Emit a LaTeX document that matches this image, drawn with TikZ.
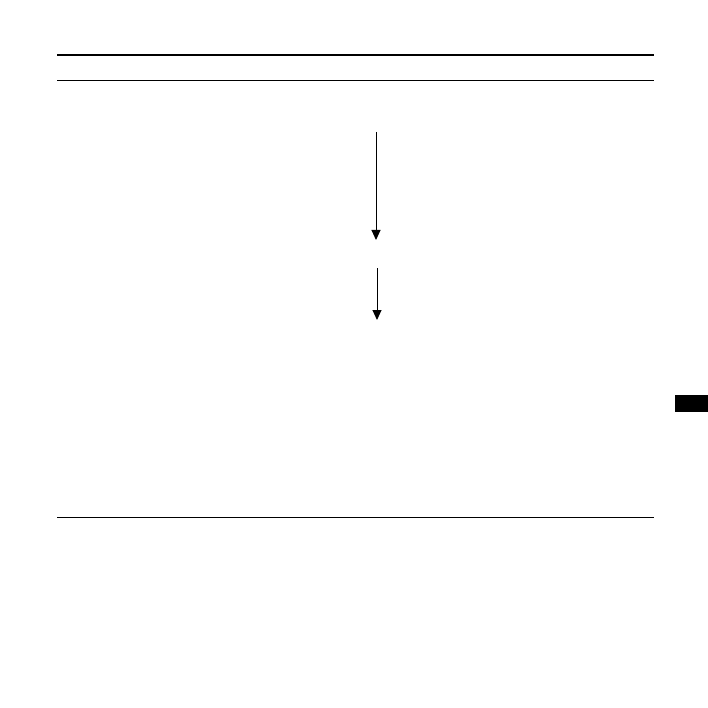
\documentclass[tikz,border=0pt]{standalone}
\usetikzlibrary{arrows.meta}
\begin{document}
\begin{tikzpicture}[x=1pt,y=-1pt,
  rule/.style={line width=0.9pt},
  thickrule/.style={line width=2pt},
  flow/.style={line width=1pt,-{Triangle[length=10pt,width=9pt]}}]
\useasboundingbox (0,0) rectangle (708,708);
\draw[thickrule] (57,55.5) -- (654,55.5);
\draw[rule] (57,80) -- (654,80);
\draw[rule] (57,517) -- (654,517);
\coordinate (a1) at (376,132);
\coordinate (a2) at (376,240);
\coordinate (b1) at (377,268);
\coordinate (b2) at (377,320);
\draw[flow] (a1) -- (a2);
\draw[flow] (b1) -- (b2);
\fill[black] (675,395) rectangle (708,412);
\end{tikzpicture}
\end{document}
